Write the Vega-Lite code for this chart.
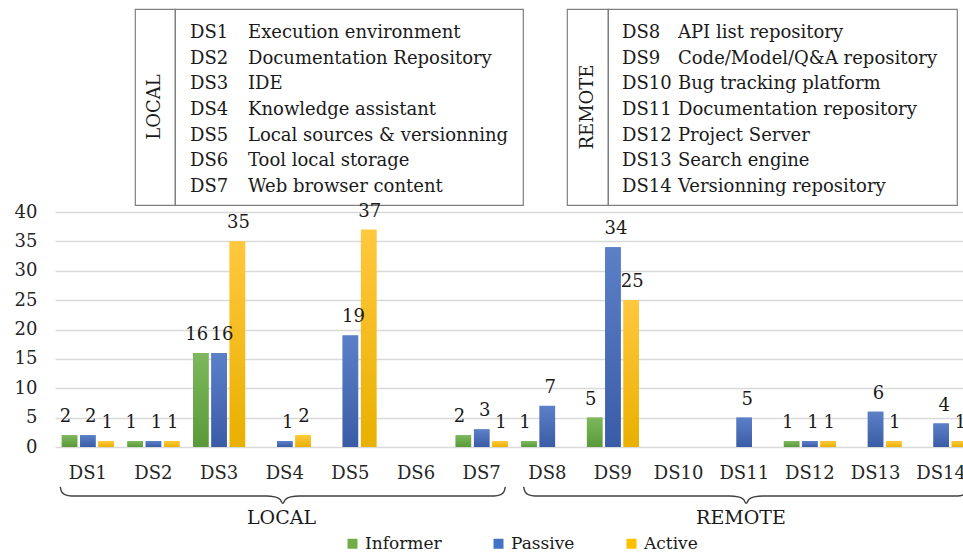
{
  "$schema": "https://vega.github.io/schema/vega-lite/v6.json",
  "autosize": {"type": "none"},
  "padding": {"left": 55, "top": 9, "right": 0, "bottom": 0},
  "params": [{"name": "width", "value": 908}, {"name": "height", "value": 545}],
  "background": "white",
  "bounds": "full",
  "spacing": -4,
  "config": {
    "view": {"stroke": null},
    "font": "DejaVu Serif",
    "axis": {"labelFont": "DejaVu Serif", "labelFontSize": 18, "labelColor": "#262626", "title": null},
    "text": {"font": "DejaVu Serif", "fontSize": 18, "color": "#1a1a1a"}
  },
  "datasets": {
    "bars": [
      {"ds": "DS1", "series": "Informer", "value": 2},
      {"ds": "DS1", "series": "Passive", "value": 2},
      {"ds": "DS1", "series": "Active", "value": 1},
      {"ds": "DS2", "series": "Informer", "value": 1},
      {"ds": "DS2", "series": "Passive", "value": 1},
      {"ds": "DS2", "series": "Active", "value": 1},
      {"ds": "DS3", "series": "Informer", "value": 16},
      {"ds": "DS3", "series": "Passive", "value": 16},
      {"ds": "DS3", "series": "Active", "value": 35},
      {"ds": "DS4", "series": "Passive", "value": 1},
      {"ds": "DS4", "series": "Active", "value": 2},
      {"ds": "DS5", "series": "Passive", "value": 19},
      {"ds": "DS5", "series": "Active", "value": 37},
      {"ds": "DS7", "series": "Informer", "value": 2},
      {"ds": "DS7", "series": "Passive", "value": 3},
      {"ds": "DS7", "series": "Active", "value": 1},
      {"ds": "DS8", "series": "Informer", "value": 1},
      {"ds": "DS8", "series": "Passive", "value": 7},
      {"ds": "DS9", "series": "Informer", "value": 5},
      {"ds": "DS9", "series": "Passive", "value": 34},
      {"ds": "DS9", "series": "Active", "value": 25},
      {"ds": "DS11", "series": "Passive", "value": 5},
      {"ds": "DS12", "series": "Informer", "value": 1},
      {"ds": "DS12", "series": "Passive", "value": 1},
      {"ds": "DS12", "series": "Active", "value": 1},
      {"ds": "DS13", "series": "Passive", "value": 6},
      {"ds": "DS13", "series": "Active", "value": 1},
      {"ds": "DS14", "series": "Passive", "value": 4},
      {"ds": "DS14", "series": "Active", "value": 1}
    ],
    "local": [
      {"code": "DS1", "name": "Execution environment"},
      {"code": "DS2", "name": "Documentation Repository"},
      {"code": "DS3", "name": "IDE"},
      {"code": "DS4", "name": "Knowledge assistant"},
      {"code": "DS5", "name": "Local sources & versionning"},
      {"code": "DS6", "name": "Tool local storage"},
      {"code": "DS7", "name": "Web browser content"}
    ],
    "remote": [
      {"code": "DS8", "name": "API list repository"},
      {"code": "DS9", "name": "Code/Model/Q&A repository"},
      {"code": "DS10", "name": "Bug tracking platform"},
      {"code": "DS11", "name": "Documentation repository"},
      {"code": "DS12", "name": "Project Server"},
      {"code": "DS13", "name": "Search engine"},
      {"code": "DS14", "name": "Versionning repository"}
    ],
    "braces": [
      {"group": "LOCAL", "u": 0.58, "v": -6.8},
      {"group": "LOCAL", "u": 0.60, "v": -7.6},
      {"group": "LOCAL", "u": 0.65, "v": -8.1},
      {"group": "LOCAL", "u": 0.75, "v": -8.34},
      {"group": "LOCAL", "u": 3.72, "v": -8.34},
      {"group": "LOCAL", "u": 3.85, "v": -8.5},
      {"group": "LOCAL", "u": 3.93, "v": -8.95},
      {"group": "LOCAL", "u": 3.97, "v": -9.6},
      {"group": "LOCAL", "u": 4.01, "v": -8.95},
      {"group": "LOCAL", "u": 4.09, "v": -8.5},
      {"group": "LOCAL", "u": 4.22, "v": -8.34},
      {"group": "LOCAL", "u": 7.19, "v": -8.34},
      {"group": "LOCAL", "u": 7.29, "v": -8.1},
      {"group": "LOCAL", "u": 7.34, "v": -7.6},
      {"group": "LOCAL", "u": 7.36, "v": -6.8},
      {"group": "REMOTE", "u": 7.64, "v": -6.8},
      {"group": "REMOTE", "u": 7.66, "v": -7.6},
      {"group": "REMOTE", "u": 7.71, "v": -8.1},
      {"group": "REMOTE", "u": 7.81, "v": -8.34},
      {"group": "REMOTE", "u": 10.78, "v": -8.34},
      {"group": "REMOTE", "u": 10.91, "v": -8.5},
      {"group": "REMOTE", "u": 10.99, "v": -8.95},
      {"group": "REMOTE", "u": 11.03, "v": -9.6},
      {"group": "REMOTE", "u": 11.07, "v": -8.95},
      {"group": "REMOTE", "u": 11.15, "v": -8.5},
      {"group": "REMOTE", "u": 11.28, "v": -8.34},
      {"group": "REMOTE", "u": 14.25, "v": -8.34},
      {"group": "REMOTE", "u": 14.35, "v": -8.1},
      {"group": "REMOTE", "u": 14.40, "v": -7.6},
      {"group": "REMOTE", "u": 14.42, "v": -6.8}
    ],
    "groups": [
      {"group": "LOCAL", "u": 3.95, "v": -12.0},
      {"group": "REMOTE", "u": 10.95, "v": -12.0}
    ]
  },
  "vconcat": [
    {
      "spacing": 0,
      "bounds": "flush",
      "hconcat": [
        {
          "width": 80, "height": 196,
          "data": {"values": [{"t": ""}]},
          "mark": {"type": "text"},
          "encoding": {"text": {"field": "t"}}
        },
        {
          "width": 40, "height": 196,
          "view": {"stroke": "#7f7f7f", "strokeWidth": 1.2},
          "data": {"values": [{"side": "LOCAL"}]},
          "mark": {"type": "text", "angle": 270, "align": "center", "baseline": "middle", "fontSize": 18},
          "encoding": {
            "text": {"field": "side"},
            "x": {"field": "side", "type": "nominal", "axis": null},
            "y": {"field": "side", "type": "nominal", "axis": null}
          }
        },
        {
          "width": 348, "height": 196,
          "view": {"stroke": "#7f7f7f", "strokeWidth": 1.2},
          "data": {"name": "local"},
          "encoding": {
            "y": {"field": "code", "type": "nominal", "sort": null, "scale": {"type": "point", "padding": 0.82}, "axis": null}
          },
          "layer": [
            {
              "mark": {"type": "text", "align": "left", "baseline": "middle", "dy": 3},
              "encoding": {
                "x": {"datum": "code", "type": "nominal", "scale": {"type": "point", "padding": 0, "domain": ["code", "name"], "range": [15, 73]}, "axis": null},
                "text": {"field": "code"}
              }
            },
            {
              "mark": {"type": "text", "align": "left", "baseline": "middle", "dy": 3},
              "encoding": {
                "x": {"datum": "name", "type": "nominal", "axis": null},
                "text": {"field": "name"}
              }
            }
          ]
        },
        {
          "width": 44, "height": 196,
          "data": {"values": [{"t": ""}]},
          "mark": {"type": "text"},
          "encoding": {"text": {"field": "t"}}
        },
        {
          "width": 41, "height": 196,
          "view": {"stroke": "#7f7f7f", "strokeWidth": 1.2},
          "data": {"values": [{"side": "REMOTE"}]},
          "mark": {"type": "text", "angle": 270, "align": "center", "baseline": "middle", "fontSize": 18},
          "encoding": {
            "text": {"field": "side"},
            "x": {"field": "side", "type": "nominal", "axis": null},
            "y": {"field": "side", "type": "nominal", "axis": null}
          }
        },
        {
          "width": 349, "height": 196,
          "view": {"stroke": "#7f7f7f", "strokeWidth": 1.2},
          "data": {"name": "remote"},
          "encoding": {
            "y": {"field": "code", "type": "nominal", "sort": null, "scale": {"type": "point", "padding": 0.82}, "axis": null}
          },
          "layer": [
            {
              "mark": {"type": "text", "align": "left", "baseline": "middle", "dy": 3},
              "encoding": {
                "x": {"datum": "code", "type": "nominal", "scale": {"type": "point", "padding": 0, "domain": ["code", "name"], "range": [14, 70]}, "axis": null},
                "text": {"field": "code"}
              }
            },
            {
              "mark": {"type": "text", "align": "left", "baseline": "middle", "dy": 3},
              "encoding": {
                "x": {"datum": "name", "type": "nominal", "axis": null},
                "text": {"field": "name"}
              }
            }
          ]
        }
      ]
    },
    {
      "width": 908, "height": 235,
      "layer": [
        {
          "data": {"name": "bars"},
          "encoding": {
            "x": {
              "field": "ds", "type": "nominal",
              "scale": {"type": "band", "domain": ["DS1","DS2","DS3","DS4","DS5","DS6","DS7","DS8","DS9","DS10","DS11","DS12","DS13","DS14"], "range": [0, 919], "paddingInner": 0.164, "paddingOuter": 0.082},
              "axis": {"labelAngle": 0, "ticks": false, "tickSize": 0, "domain": false, "labelPadding": 17, "labelFontSize": 18, "labelColor": "#262626", "labelOverlap": false}
            },
            "xOffset": {
              "field": "series", "type": "nominal",
              "scale": {"domain": ["Informer", "Passive", "Active"], "paddingInner": 0.153, "paddingOuter": 0.0765}
            },
            "y": {
              "field": "value", "type": "quantitative",
              "scale": {"domain": [0, 40], "nice": false, "zero": true},
              "axis": {"values": [0,5,10,15,20,25,30,35,40], "labelOverlap": false, "grid": true, "gridColor": "#d9d9d9", "gridWidth": 1.3, "domain": false, "ticks": false, "tickSize": 0, "labelPadding": 18, "labelFontSize": 18, "labelColor": "#262626"}
            }
          },
          "layer": [
            {
              "mark": {"type": "bar"},
              "encoding": {
                "color": {
                  "field": "series", "type": "nominal",
                  "scale": {"domain": ["Informer", "Passive", "Active"], "range": ["#70AD47", "#4472C4", "#FFC000"]},
                  "legend": {"orient": "none", "legendX": 289, "legendY": 526, "direction": "horizontal", "title": null, "symbolType": "square", "symbolSize": 100, "symbolStrokeWidth": 0, "labelFont": "DejaVu Serif", "labelFontSize": 17, "labelColor": "#1a1a1a", "columnPadding": 48, "labelOffset": 4}
                }
              }
            },
            {
              "transform": [{"filter": "datum.series === 'Informer'"}],
              "mark": {"type": "bar", "color": {"gradient": "linear", "x1": 0, "y1": 0, "x2": 0, "y2": 1, "stops": [{"offset": 0, "color": "#7db85c"}, {"offset": 1, "color": "#5a9a39"}]}}
            },
            {
              "transform": [{"filter": "datum.series === 'Passive'"}],
              "mark": {"type": "bar", "color": {"gradient": "linear", "x1": 0, "y1": 0, "x2": 0, "y2": 1, "stops": [{"offset": 0, "color": "#5c80c8"}, {"offset": 1, "color": "#3a5ca6"}]}}
            },
            {
              "transform": [{"filter": "datum.series === 'Active'"}],
              "mark": {"type": "bar", "color": {"gradient": "linear", "x1": 0, "y1": 0, "x2": 0, "y2": 1, "stops": [{"offset": 0, "color": "#ffc83e"}, {"offset": 1, "color": "#e9b000"}]}}
            },
            {
              "transform": [{"filter": "datum.series === 'Informer'"}],
              "mark": {"type": "text", "baseline": "alphabetic", "dy": -13, "dx": -4, "fontSize": 18},
              "encoding": {"text": {"field": "value", "type": "quantitative"}}
            },
            {
              "transform": [{"filter": "datum.series === 'Passive'"}],
              "mark": {"type": "text", "baseline": "alphabetic", "dy": -13, "dx": 3, "fontSize": 18},
              "encoding": {"text": {"field": "value", "type": "quantitative"}}
            },
            {
              "transform": [{"filter": "datum.series === 'Active'"}],
              "mark": {"type": "text", "baseline": "alphabetic", "dy": -13, "dx": 1, "fontSize": 18},
              "encoding": {"text": {"field": "value", "type": "quantitative"}}
            }
          ]
        },
        {
          "encoding": {
            "x": {"field": "u", "type": "quantitative", "scale": {"domain": [0.5, 14.5], "range": [0, 919], "nice": false, "zero": false}, "axis": null},
            "y": {
              "field": "v", "type": "quantitative",
              "scale": {"domain": [0, 40], "nice": false, "zero": true},
              "axis": {"values": [0,5,10,15,20,25,30,35,40], "labelOverlap": false, "grid": true, "gridColor": "#d9d9d9", "gridWidth": 1.3, "domain": false, "ticks": false, "tickSize": 0, "labelPadding": 18, "labelFontSize": 18, "labelColor": "#262626"}
            }
          },
          "layer": [
            {
              "data": {"name": "braces"},
              "mark": {"type": "line", "interpolate": "monotone", "color": "#404040", "strokeWidth": 1.4},
              "encoding": {"detail": {"field": "group"}}
            },
            {
              "data": {"name": "groups"},
              "mark": {"type": "text", "baseline": "middle", "align": "center", "fontSize": 19},
              "encoding": {"text": {"field": "group"}}
            }
          ]
        }
      ],
      "resolve": {"scale": {"x": "independent"}}
    }
  ]
}
